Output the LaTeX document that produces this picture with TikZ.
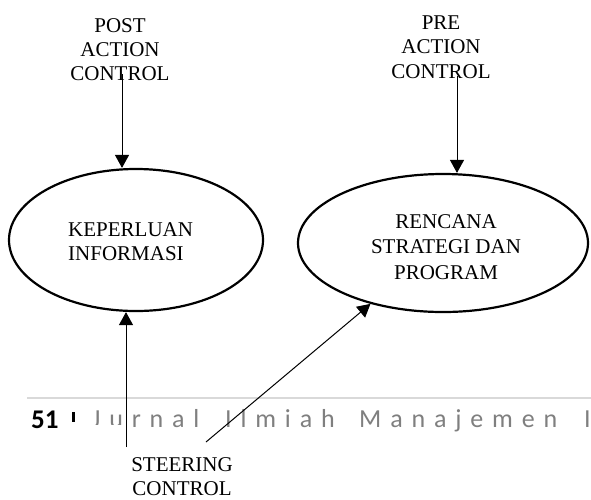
\documentclass[tikz,border=0pt]{standalone}
\usepackage{fontspec}
\setmainfont{Liberation Serif}
\newfontfamily\pagefont{Carlito}
\newfontfamily\spacedfont[LetterSpace=34]{Carlito}
\usetikzlibrary{shapes.geometric,arrows.meta}

\definecolor{footgray}{HTML}{7F7F7F}
\definecolor{rulegray}{HTML}{D9D9D9}

\tikzset{
  bubble/.style={draw, ellipse, line width=2.2pt, inner sep=0pt},
  tagtext/.style={anchor=north, align=center, inner sep=0pt,
                  font=\fontsize{21}{24.5}\selectfont},
  flow/.style={-{Triangle[width=14pt,length=13pt]}, line width=1pt},
  foot/.style={anchor=base west, inner sep=0pt, text=footgray,
               font=\spacedfont\fontsize{26}{30}\selectfont}
}

\begin{document}
\begin{tikzpicture}[x=1pt,y=-1pt]
  \useasboundingbox (0,0) rectangle (591,499);

  % running footer of the journal page
  \draw[rulegray, line width=1.5pt] (27,398) -- (591,398);
  \node[anchor=base west, inner sep=0pt,
        font=\pagefont\bfseries\fontsize{27}{30}\selectfont] (pagenum) at (31,428) {51};
  \fill (72,412) rectangle (75,422);
  \node[foot] (w1) at (92,427.5) {Jurnal};
  \node[foot] (w2) at (225,427.5) {Ilmiah};
  \node[foot] (w3) at (359,427.5) {Manajemen};
  \node[foot] (w4) at (584,427.5) {I};
  \fill[white] (84,425) rectangle (123,434);

  % processes
  \node[bubble, minimum width=254pt, minimum height=142pt] (kep) at (136,240) {};
  \node[anchor=north west, align=left, inner sep=0pt,
        font=\fontsize{21}{24}\selectfont] (keptext) at (68,222.3) {KEPERLUAN\\INFORMASI};

  \node[bubble, minimum width=290pt, minimum height=138pt] (ren) at (443,243) {};
  \node[tagtext, font=\fontsize{21}{25.5}\selectfont] (rentext) at (446,214.3)
       {RENCANA\\STRATEGI DAN\\PROGRAM};

  % control labels
  \node[tagtext, font=\fontsize{21}{24}\selectfont] (post) at (120,18.3) {POST\\ACTION\\CONTROL};
  \node[tagtext] (pre) at (441,15.3) {PRE\\ACTION\\CONTROL};
  \node[tagtext, font=\fontsize{21}{23.5}\selectfont] (steer) at (182,457.5) {STEERING\\CONTROL};

  % connector ends
  \coordinate (postend) at (122,74);
  \coordinate (preend) at (457,76);
  \coordinate (steerup) at (126,447);
  \coordinate (steerdiag) at (206,442);

  % connectors
  \draw[flow] (postend) -- (postend |- kep.north);
  \draw[flow] (preend) -- (preend |- ren.north);
  \draw[flow] (steerup) -- (steerup |- kep.south);
  \draw[flow] (steerdiag) -- (ren.220.3);
\end{tikzpicture}
\end{document}
